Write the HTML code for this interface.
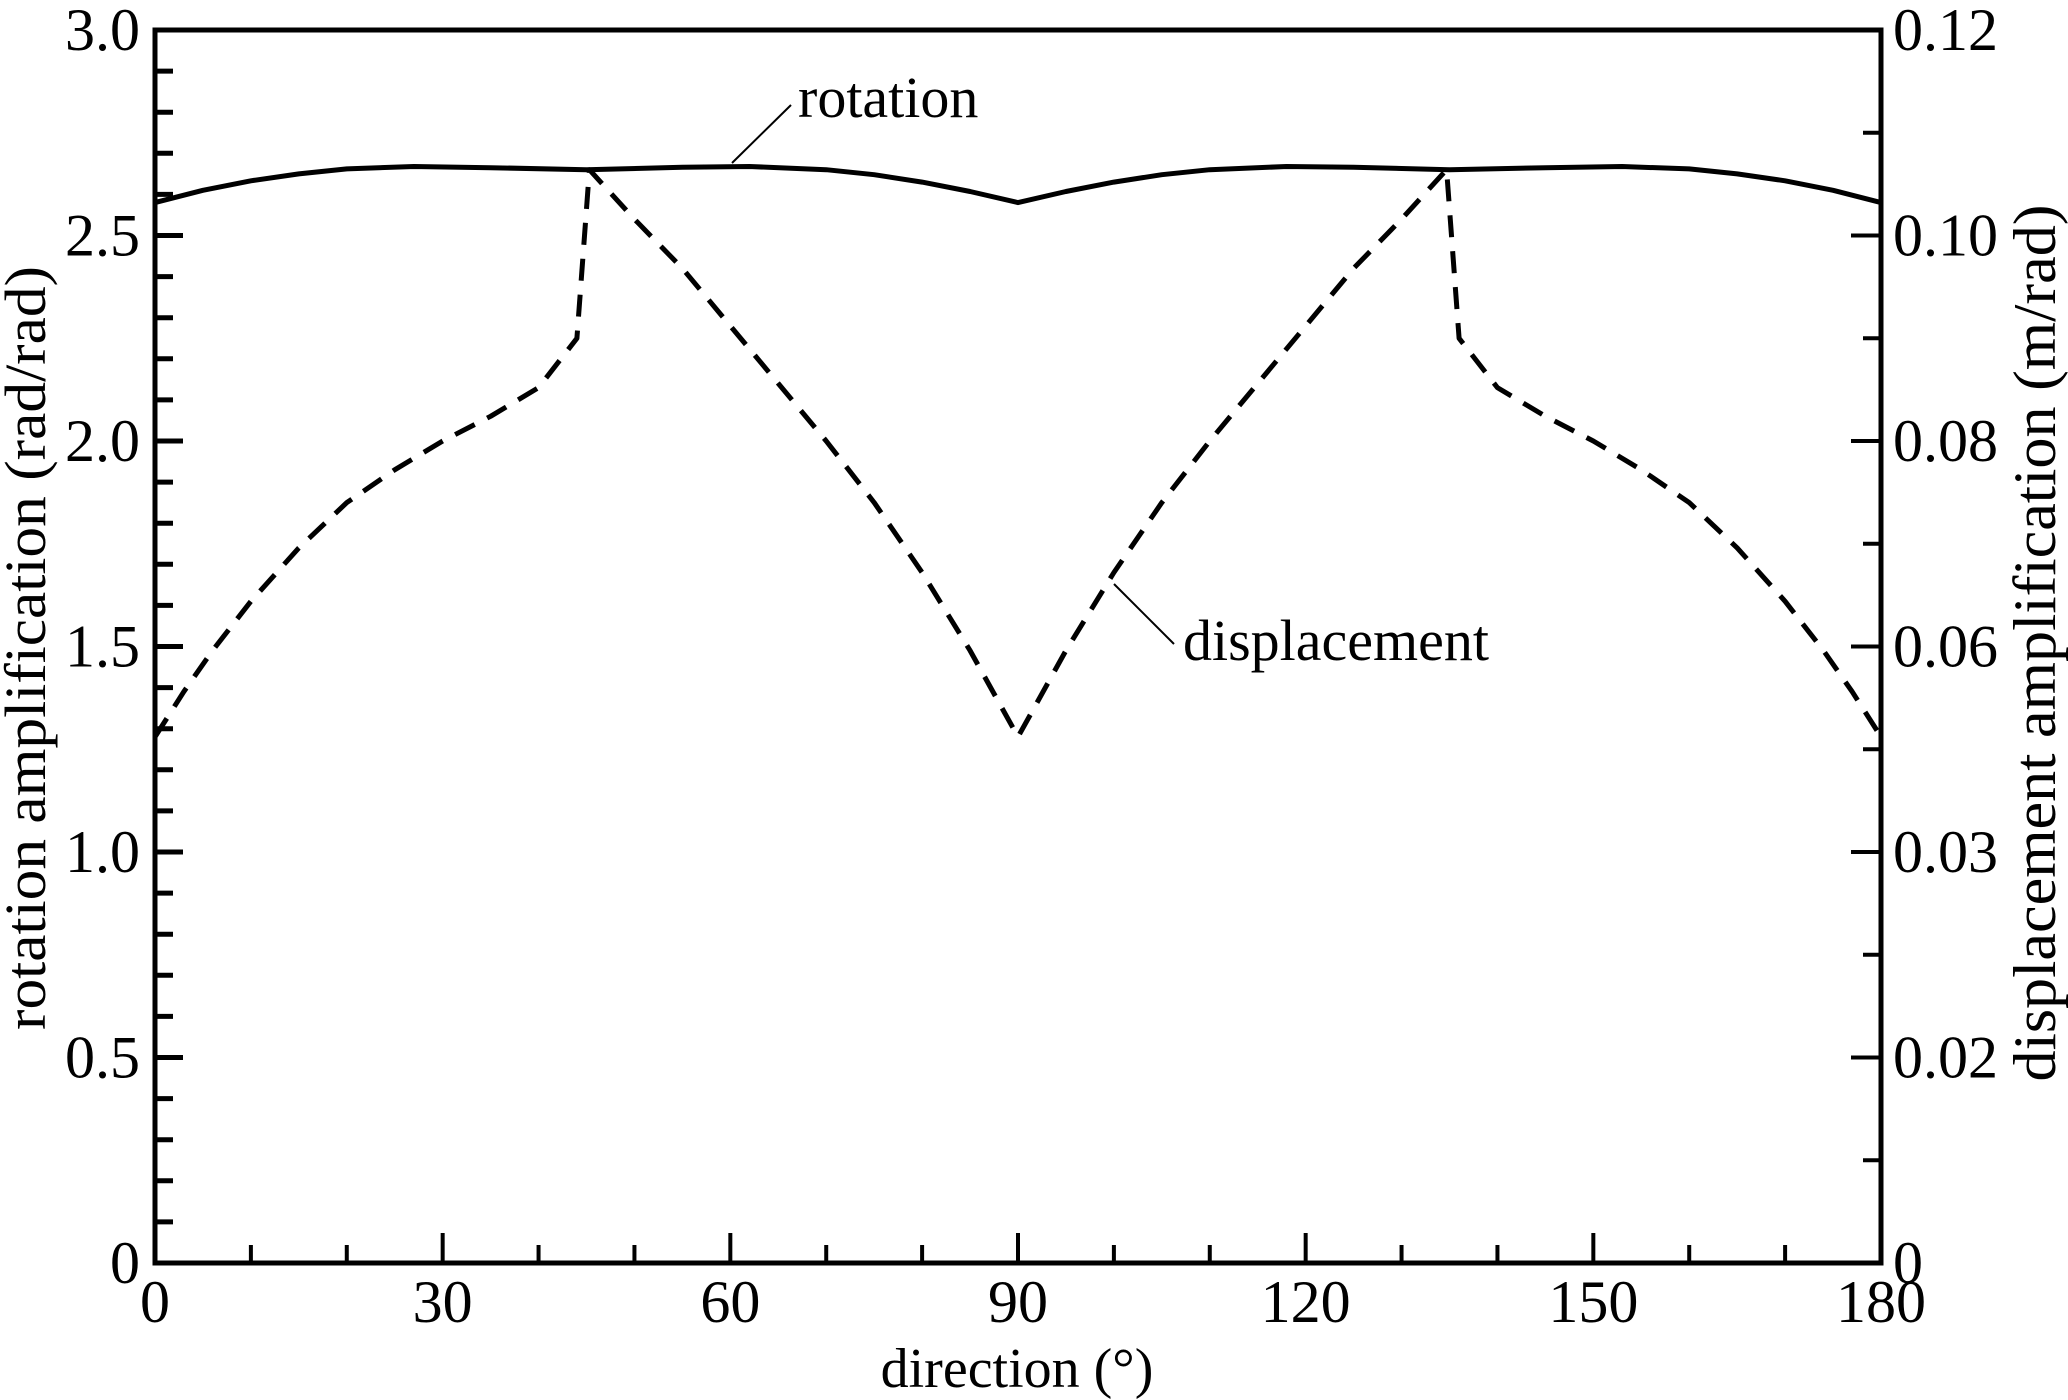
<!DOCTYPE html>
<html><head><meta charset="utf-8"><style>
html,body{margin:0;padding:0;background:#fff;}
svg{display:block;}
text{font-family:"Liberation Serif",serif;fill:#000;}
</style></head><body>
<svg id="s" width="2068" height="1400" viewBox="0 0 2068 1400" xmlns="http://www.w3.org/2000/svg">
<g id="g"></g>
<text x="798" y="117" font-size="58">rotation</text>
<line x1="791" y1="105" x2="732" y2="163" stroke="#000" stroke-width="2"/>
<text x="1183" y="660" font-size="58">displacement</text>
<line x1="1174" y1="644" x2="1114" y2="584" stroke="#000" stroke-width="2"/>
<text x="1017" y="1387" font-size="56" text-anchor="middle">direction (°)</text>
<text transform="translate(45,648) rotate(-90)" font-size="58" text-anchor="middle" textLength="764" lengthAdjust="spacingAndGlyphs">rotation amplification (rad/rad)</text>
<text transform="translate(2055,643) rotate(-90)" font-size="60" text-anchor="middle" textLength="877" lengthAdjust="spacingAndGlyphs">displacement amplification (m/rad)</text>
</svg>
<script>
var L=155,R=1881,T=30,B=1263;
function X(d){return L+(R-L)*d/180;}
function Y(v){return B-(B-T)*v/3;}
var g=document.getElementById('g'),h='';
function ln(a,b,c,d,w){h+='<line x1="'+a+'" y1="'+b+'" x2="'+c+'" y2="'+d+'" stroke="#000" stroke-width="'+w+'"/>';}
function tx(x,y,s,anc){h+='<text x="'+x+'" y="'+y+'" font-size="60" text-anchor="'+anc+'">'+s+'</text>';}
for(var i=1;i<30;i++){var y=Y(i/10);ln(L,y,L+(i%5==0?28:18),y,5);}
for(var d=10;d<180;d+=10){var x=X(d);ln(x,B,x,B-(d%30==0?30:18),4);}
for(var i=1;i<12;i++){var y=Y(i/4);ln(R,y,R-(i%2==0?30:18),y,4);}
h+='<rect x="'+L+'" y="'+T+'" width="'+(R-L)+'" height="'+(B-T)+'" fill="none" stroke="#000" stroke-width="5"/>';
var ll=['0','0.5','1.0','1.5','2.0','2.5','3.0'];
var rl=['0','0.02','0.03','0.06','0.08','0.10','0.12'];
for(var i=0;i<7;i++){var y=Y(i/2)+20;tx(140,y,ll[i],'end');tx(1893,y,rl[i],'start');}
for(var d=0;d<=180;d+=30){tx(X(d),1322,d,'middle');}
var rp=[[0,2.58],[5,2.61],[10,2.633],[15,2.65],[20,2.662],[27,2.668],[35,2.665],[45,2.66],[55,2.666],[62,2.668],[70,2.66],[75,2.648],[80,2.63],[85,2.607],[90,2.58]];
function mir(a){var o=a.slice();for(var i=a.length-2;i>=0;i--)o.push([180-a[i][0],a[i][1]]);return o;}
function pts(a){return a.map(function(p){return X(p[0]).toFixed(1)+','+Y(p[1]).toFixed(1);}).join(' ');}
h+='<polyline points="'+pts(mir(rp))+'" fill="none" stroke="#000" stroke-width="5" stroke-linejoin="round"/>';
var dp=[[0,1.28],[3,1.39],[6,1.49],[10,1.61],[15,1.74],[20,1.85],[25,1.93],[30,2.0],[35,2.06],[40,2.13],[44,2.25],[45.3,2.66],[50,2.54],[55,2.42],[60,2.28],[65,2.14],[70,2.0],[75,1.85],[80,1.68],[85,1.49],[90,1.28]];
h+='<polyline points="'+pts(mir(dp))+'" fill="none" stroke="#000" stroke-width="5" stroke-dasharray="22,14" stroke-linejoin="round"/>';
g.innerHTML=h;
</script>
</body></html>
